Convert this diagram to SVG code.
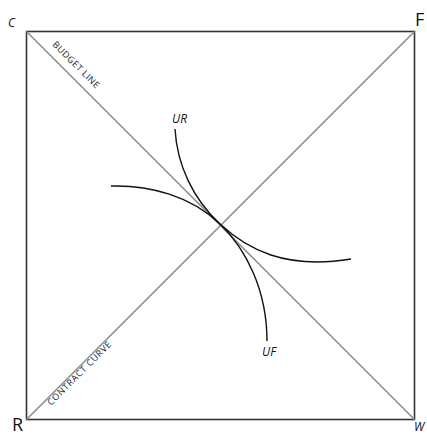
<svg xmlns="http://www.w3.org/2000/svg" width="427" height="436" viewBox="0 0 427 436">
<style>
.box{fill:none;stroke:#333;stroke-width:1.6}
.diag{fill:none;stroke:#8c8c8c;stroke-width:1.6}
.curve{fill:none;stroke:#111;stroke-width:1.4}
.lbl{font-family:"Open Sans","DejaVu Sans",sans-serif;font-style:italic;font-size:12px;fill:#111}
.corner{font-family:"Open Sans","DejaVu Sans",sans-serif;font-size:18px;fill:#111}
.small{font-family:"Open Sans","DejaVu Sans",sans-serif;font-size:9px;fill:#222}
</style>
<rect width="427" height="436" fill="#fff"/>
<g id="frame">
<rect class="box" x="26.5" y="31.5" width="388" height="388"/>
</g>
<g id="connectors">
<line id="budget-line" class="diag" x1="26.5" y1="31.5" x2="414.5" y2="419.5"/>
<line id="contract-curve" class="diag" x1="26.5" y1="419.5" x2="414.5" y2="31.5"/>
</g>
<g id="curve-UR">
<path class="curve" d="M175,129 C177,165 193,199 220,224 C247,249 285,270 351,259"/>
<text class="lbl" x="172" y="123">UR</text>
</g>
<g id="curve-UF">
<path class="curve" d="M111,186 C150,185 191,196 220,224 C246,249 267,290 267,341"/>
<text class="lbl" x="262" y="356">UF</text>
</g>
<g id="labels">
<text class="lbl" x="8" y="27" font-size="13">C</text>
<text class="corner" x="415" y="26">F</text>
<text class="corner" x="12" y="431" font-size="17">R</text>
<text class="lbl" x="414" y="431">W</text>
<text class="small" transform="translate(52,45) rotate(45)" textLength="62">BUDGET LINE</text>
<text class="small" transform="translate(51,406) rotate(-45)" textLength="86">CONTRACT CURVE</text>
</g>
</svg>
